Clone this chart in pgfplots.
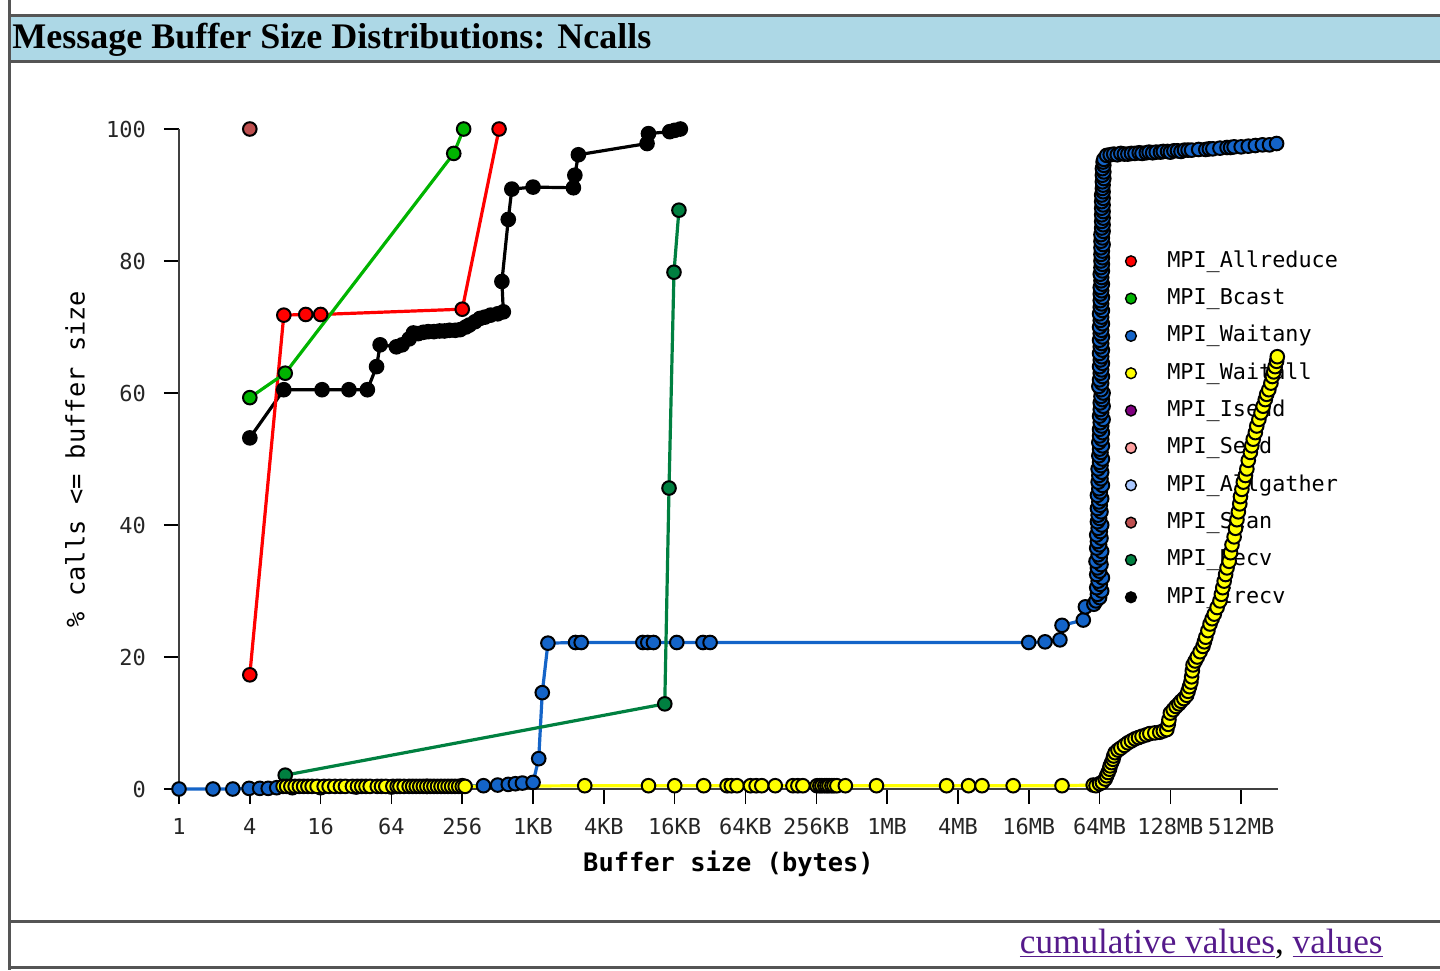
\documentclass[border=0pt]{standalone}
\usepackage{pgfplots}
\pgfplotsset{compat=1.18}
\usepackage{fontspec}
\setmainfont{Liberation Serif}
\newfontfamily\monofont{DejaVu Sans Mono}

\definecolor{cAllreduce}{RGB}{255,0,0}
\definecolor{cBcast}{RGB}{0,180,0}
\definecolor{cWaitany}{RGB}{20,100,200}
\definecolor{cWaitall}{RGB}{255,255,0}
\definecolor{cIsend}{RGB}{128,0,128}
\definecolor{cSend}{RGB}{255,160,160}
\definecolor{cAllgather}{RGB}{170,200,255}
\definecolor{cScan}{RGB}{190,80,80}
\definecolor{cRecv}{RGB}{0,128,64}
\definecolor{cIrecv}{RGB}{0,0,0}
\definecolor{titlebar}{RGB}{173,216,230}
\definecolor{framegray}{RGB}{85,85,85}
\definecolor{linkpurple}{RGB}{85,26,139}

\pgfplotsset{
  ser/.style={color=#1, line width=1.6pt, mark=*, mark size=3.4pt,
    mark options={draw=black, fill=#1, line width=1pt, solid}},
  frame axis/.style={
    at={(89.5pt,-394.5pt)}, anchor=south west,
    scale only axis, width=549.5pt, height=330pt,
    xmin=0, xmax=15.52, ymin=0, ymax=100, clip=false},
}

\begin{document}
\begin{tikzpicture}
% page frame (1 px = 0.5pt, y downwards)
\path[use as bounding box] (0pt,0pt) rectangle (720pt,-485pt);
\fill[titlebar] (5pt,-7.5pt) rectangle (720pt,-30pt);
\draw[framegray, line width=1.5pt] (4.5pt,-7.5pt) -- (720pt,-7.5pt);
\draw[framegray, line width=1.5pt] (4.5pt,-30.5pt) -- (720pt,-30.5pt);
\draw[framegray, line width=1.5pt] (4.5pt,0pt) -- (4.5pt,-485pt);
\draw[framegray, line width=1.5pt] (4.5pt,-460.5pt) -- (720pt,-460.5pt);
\draw[framegray, line width=1.5pt] (4.5pt,-483.5pt) -- (720pt,-483.5pt);
\node[anchor=base west, inner sep=0pt, font=\fontsize{18}{20}\selectfont\bfseries]
  at (6pt,-24.25pt) {Message Buffer Size Distributions: Ncalls};
\node[anchor=base east, inner sep=0pt, text=linkpurple, font=\fontsize{17.6}{20}\selectfont]
  at (691.5pt,-476.5pt) {\underline{cumulative values}\textcolor{black}{,} \underline{values}};

% legend first, so that the data are drawn over it
\begin{axis}[
  frame axis, hide axis,
  legend style={draw=none, fill=none, at={(rel axis cs:0.86,0.823)}, anchor=north west,
    inner sep=0pt, row sep=3.67pt, column sep=13pt,
    font=\fontsize{10.9}{12}\monofont,
    nodes={inner sep=2pt, text height=8.5pt, text depth=2.5pt}},
  legend cell align=left,
  legend image code/.code={
    \draw[#1, only marks, mark=*, mark size=2.7pt,
      mark options={draw=black, line width=0.7pt, solid}] plot coordinates {(3pt,0pt)};
    \path (0pt,0pt) (6pt,0pt);},
]
\addlegendimage{cAllreduce}\addlegendentry{MPI\_Allreduce}
\addlegendimage{cBcast}\addlegendentry{MPI\_Bcast}
\addlegendimage{cWaitany}\addlegendentry{MPI\_Waitany}
\addlegendimage{cWaitall}\addlegendentry{MPI\_Waitall}
\addlegendimage{cIsend}\addlegendentry{MPI\_Isend}
\addlegendimage{cSend}\addlegendentry{MPI\_Send}
\addlegendimage{cAllgather}\addlegendentry{MPI\_Allgather}
\addlegendimage{cScan}\addlegendentry{MPI\_Scan}
\addlegendimage{cRecv}\addlegendentry{MPI\_Recv}
\addlegendimage{cIrecv}\addlegendentry{MPI\_Irecv}
\end{axis}

\begin{axis}[
  frame axis,
  axis lines=left, axis line style={-, black!75, line width=1pt},
  tick align=outside, major tick length=7.5pt,
  tick style={black, line width=0.8pt},
  xtick={0,...,15},
  xticklabels={1,4,16,64,256,1KB,4KB,16KB,64KB,256KB,1MB,4MB,16MB,64MB,128MB,512MB},
  ytick={0,20,40,60,80,100},
  yticklabels={0,20,40,60,80,100},
  ticklabel style={font=\fontsize{11}{12}\monofont, text=black!85},
  xticklabel style={yshift=-3.5pt},
  yticklabel style={xshift=-5.5pt},
  xlabel={\bfseries Buffer size (bytes)},
  ylabel={\% calls <= buffer size},
  every axis x label/.style={at={(axis description cs:0.5,-0.1136)}, anchor=center,
    font=\fontsize{12.7}{14}\monofont},
  every axis y label/.style={at={(axis description cs:-0.0946,0.5)}, anchor=center,
    rotate=90, font=\fontsize{12.7}{14}\monofont},
]

% MPI_Irecv
\addplot[ser=cIrecv] coordinates {
  (1,53.2) (1.48,60.5) (2.02,60.5) (2.4,60.5) (2.66,60.5) (2.79,64) (2.84,67.3)
  (3.07,67.0) (3.15,67.3) (3.25,68.2) (3.31,69.1) (3.38,69.0) (3.45,69.2) (3.52,69.3)
  (3.6,69.3) (3.68,69.4) (3.75,69.4) (3.82,69.5) (3.9,69.5) (3.97,69.6) (4.05,70.0)
  (4.1,70.3) (4.18,70.8) (4.25,71.3) (4.32,71.5) (4.4,71.8) (4.5,72.0)
  (4.58,72.3) (4.56,76.9) (4.65,86.3) (4.70,90.9) (5.0,91.2) (5.57,91.1)
  (5.59,93) (5.64,96.1) (6.61,97.8) (6.63,99.3) (6.93,99.6) (7.0,99.8) (7.08,100)
};
% MPI_Allreduce
\addplot[ser=cAllreduce] coordinates {
  (1,17.3) (1.48,71.8) (1.79,71.9) (2.0,71.9) (4.0,72.7) (4.52,100)
};
% MPI_Bcast
\addplot[ser=cBcast] coordinates {
  (1,59.3) (1.5,63.0) (3.88,96.3) (4.02,100)
};
% MPI_Waitany
\addplot[ser=cWaitany] coordinates {
  (0,0) (0.48,0) (0.76,0) (0.99,0.1) (1.14,0.1) (1.26,0.1) (1.38,0.2) (1.6,0.2)
  (2.0,0.2) (2.5,0.3) (3.0,0.3) (3.5,0.4) (4.0,0.5) (4.3,0.5) (4.5,0.6)
  (4.65,0.7) (4.75,0.8) (4.85,0.9) (5.0,1.0) (5.08,4.6) (5.13,14.6) (5.21,22.1)
  (5.6,22.2) (5.68,22.2) (6.55,22.2) (6.62,22.2) (6.7,22.2) (7.03,22.2)
  (7.4,22.2) (7.5,22.2) (12.0,22.2) (12.23,22.3) (12.44,22.6) (12.47,24.8)
  (12.77,25.6) (12.8,27.6) (12.92,28.0)
  (12.95,28.5) (13.00,29.0) (12.97,29.5) (13.03,30.0) (12.96,30.5) (13.01,31.0)
  (12.98,31.5) (13.04,32.0) (12.96,32.5) (13.00,33.0) (12.97,33.5) (13.02,34.0)
  (12.95,34.5) (13.01,35.0) (12.98,35.5) (13.03,36.0) (12.96,36.5) (13.00,37.0)
  (12.97,37.5) (13.02,38.0) (12.96,38.5) (13.01,39.0) (12.98,39.5) (13.03,40.0)
  (12.97,40.5) (13.00,41.0) (12.98,41.5) (13.02,42.0) (12.97,42.5) (13.01,43.0)
  (12.99,43.5) (13.03,44.0) (12.97,44.5) (13.01,45.0) (12.99,45.5) (13.04,46.0)
  (12.98,46.5) (13.02,47.0) (12.99,47.5) (13.03,48.0) (12.98,48.5) (13.02,49.0)
  (13.00,49.5) (13.04,50.0) (12.99,50.5) (13.02,51.0) (13.00,51.5) (13.04,52.0)
  (12.99,52.5) (13.03,53.0) (13.00,53.5) (13.04,54.0) (13.00,54.5) (13.03,55.0)
  (13.01,55.5) (13.05,56.0) (13.00,56.5) (13.03,57.0) (13.01,57.5) (13.05,58.0)
  (13.01,58.5) (13.04,59.0) (13.02,59.5) (13.05,60.0) (13.02,60.5) (12.99,61.0)
  (13.03,61.5) (13.00,62.0) (13.04,62.5) (13.01,63.0) (13.03,63.5) (13.00,64.0)
  (13.04,64.5) (13.01,65.0) (13.03,65.5) (13.00,66.0) (13.04,66.5) (13.01,67.0)
  (13.03,67.5) (13.00,68.0) (13.04,68.5) (13.01,69.0) (13.03,69.5) (13.00,70.0)
  (13.04,70.5) (13.01,71.0) (13.03,71.5) (13.00,72.0) (13.04,72.5) (13.01,73.0)
  (13.03,73.5) (13.01,74.0) (13.04,74.5) (13.01,75.0) (13.03,75.5) (13.01,76.0)
  (13.04,76.5) (13.02,77.0) (13.03,77.5) (13.01,78.0) (13.04,78.5) (13.02,79.0)
  (13.04,79.5) (13.02,80.0) (13.04,80.5) (13.02,81.0) (13.04,81.5) (13.02,82.0)
  (13.05,82.5) (13.02,83.0) (13.04,83.5) (13.02,84.0) (13.05,84.5) (13.03,85.0)
  (13.05,85.5) (13.03,86.0) (13.05,86.5) (13.03,87.0) (13.05,87.5) (13.03,88.0)
  (13.05,88.5) (13.03,89.0) (13.05,89.5) (13.03,90.0) (13.05,90.5) (13.04,91.0)
  (13.05,91.5) (13.04,92.0) (13.06,92.5) (13.04,93.0) (13.06,93.5) (13.04,94.0)
  (13.06,94.5) (13.05,95.0) (13.06,95.4)
  (13.10,96.0) (13.15,96.1) (13.2,96.2) (13.25,96.1) (13.3,96.3) (13.35,96.2)
  (13.4,96.2) (13.45,96.3) (13.5,96.3) (13.56,96.4) (13.6,96.3) (13.66,96.4)
  (13.7,96.5) (13.75,96.4) (13.8,96.5) (13.86,96.5) (13.9,96.6) (13.96,96.6)
  (14.0,96.5) (14.05,96.7) (14.1,96.7) (14.15,96.6) (14.2,96.8) (14.25,96.8)
  (14.3,96.8) (14.4,96.9) (14.5,96.9) (14.55,97.0) (14.6,97.0) (14.7,97.1)
  (14.8,97.2) (14.85,97.2) (14.9,97.3) (15.0,97.3) (15.1,97.4) (15.2,97.5)
  (15.3,97.6) (15.4,97.6) (15.5,97.8)
};
% MPI_Recv
\addplot[ser=cRecv] coordinates {
  (1.5,2.1) (6.86,12.9) (6.92,45.6) (6.99,78.3) (7.06,87.7)
};
% MPI_Waitall
\addplot[ser=cWaitall] coordinates {
  (1.47,0.4) (1.52,0.4) (1.58,0.4) (1.64,0.4) (1.7,0.4) (1.76,0.4) (1.82,0.4)
  (1.88,0.4) (1.95,0.4) (2.05,0.4) (2.12,0.4) (2.2,0.4) (2.28,0.4) (2.35,0.4)
  (2.45,0.4) (2.52,0.4) (2.58,0.4) (2.64,0.4) (2.7,0.4) (2.8,0.4) (2.86,0.4)
  (2.92,0.4) (3.02,0.4) (3.08,0.4) (3.12,0.4) (3.18,0.4) (3.25,0.4) (3.3,0.4)
  (3.35,0.4) (3.4,0.4) (3.45,0.4) (3.5,0.4) (3.55,0.4) (3.6,0.4) (3.65,0.4)
  (3.7,0.4) (3.75,0.4) (3.8,0.4) (3.85,0.4) (3.9,0.4) (3.95,0.4) (4.0,0.4)
  (4.04,0.4)
  (5.73,0.5) (6.63,0.5) (7.0,0.5) (7.41,0.5) (7.74,0.5) (7.8,0.5) (7.88,0.5)
  (8.07,0.5) (8.15,0.5) (8.23,0.5) (8.42,0.5) (8.67,0.5) (8.74,0.5) (8.81,0.5)
  (9.01,0.5) (9.05,0.5) (9.08,0.5) (9.12,0.5) (9.15,0.5) (9.18,0.5) (9.22,0.5)
  (9.25,0.5) (9.29,0.5) (9.41,0.5) (9.85,0.5)
  (10.84,0.5) (11.15,0.5) (11.34,0.5) (11.78,0.5) (12.47,0.5) (12.91,0.6)
  (12.95,0.5) (13.0,0.8) (13.04,1.0) (13.08,1.5) (13.1,2.0) (13.12,2.5)
  (13.14,3.0) (13.15,3.5) (13.17,4.0) (13.19,4.5) (13.2,5.0) (13.22,5.5)
  (13.26,5.9) (13.3,6.2) (13.35,6.6) (13.4,7.0) (13.45,7.3) (13.5,7.6)
  (13.55,7.8) (13.6,8.0) (13.66,8.2) (13.71,8.4) (13.78,8.5) (13.85,8.6)
  (13.9,8.8) (13.95,9.0) (13.97,9.8) (13.98,10.5) (14.0,11.5) (14.04,12.0)
  (14.08,12.5) (14.12,12.9) (14.15,13.3) (14.19,13.7) (14.23,14.2) (14.25,14.8)
  (14.27,15.5) (14.29,16.2) (14.3,17.0) (14.31,17.9) (14.32,18.8) (14.35,19.4)
  (14.38,20.0) (14.42,20.8) (14.46,21.6) (14.48,22.3) (14.5,23.0) (14.53,24.0)
  (14.56,25.0) (14.59,25.8) (14.62,26.5) (14.66,27.5) (14.7,28.5) (14.72,29.5)
  (14.74,30.5) (14.76,31.5) (14.78,32.5) (14.8,33.5) (14.83,34.5) (14.85,35.8)
  (14.87,37.0) (14.9,38.2) (14.92,39.5) (14.94,40.8) (14.96,42.0) (14.98,43.2)
  (14.99,44.3) (15.01,45.4) (15.03,46.5) (15.06,47.5) (15.08,48.5) (15.1,49.8)
  (15.13,51.0) (15.15,52.0) (15.17,53.0) (15.2,54.0) (15.22,55.0) (15.25,56.0)
  (15.28,57.0) (15.31,58.0) (15.34,59.0) (15.36,59.8) (15.39,60.5) (15.42,61.5)
  (15.44,62.5) (15.46,63.2) (15.48,64.0) (15.5,64.8) (15.51,65.5)
};
% MPI_Scan
\addplot[ser=cScan] coordinates {(1,100)};
\end{axis}
\end{tikzpicture}
\end{document}
